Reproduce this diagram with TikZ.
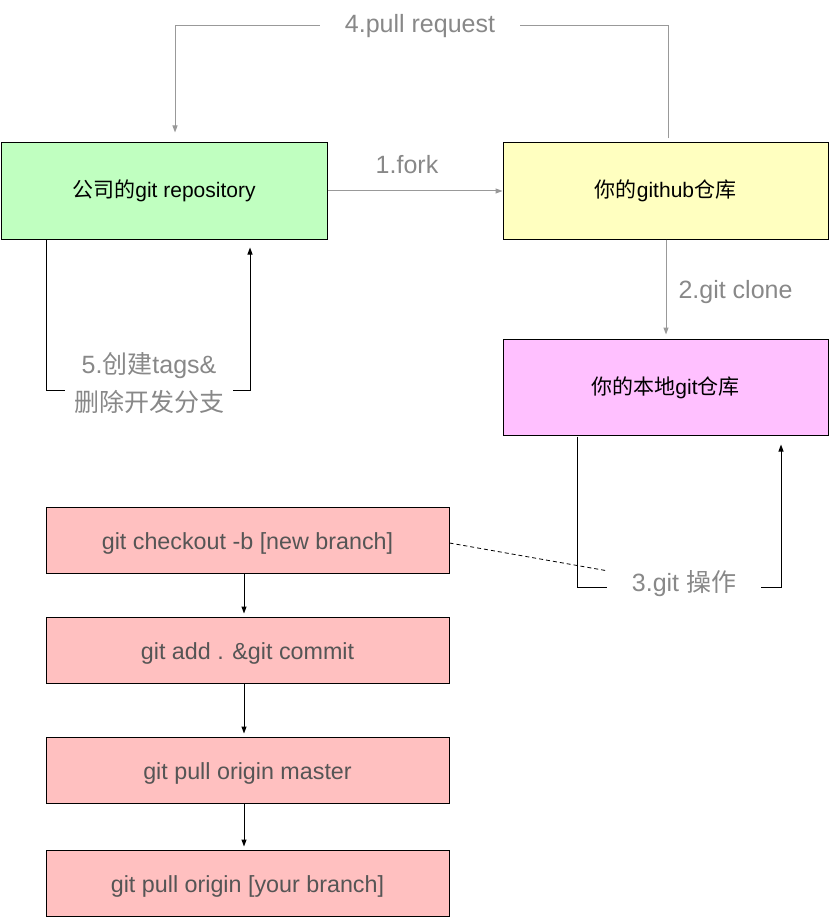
\documentclass[tikz,border=0pt]{standalone}
\usepackage{fontspec}
\setmainfont{Liberation Sans}
\newfontfamily\cjk{Noto Sans CJK SC}
\usetikzlibrary{arrows.meta,calc}
\definecolor{boxgreen}{HTML}{C0FFC0}
\definecolor{boxyellow}{HTML}{FFFFC0}
\definecolor{boxmagenta}{HTML}{FFC0FF}
\definecolor{boxsalmon}{HTML}{FFC0C0}
\definecolor{salmontext}{HTML}{555555}
\definecolor{lblgray}{HTML}{888888}
\definecolor{linegray}{HTML}{999999}
\begin{document}
\begin{tikzpicture}[x=1pt,y=-1pt,
  box/.style={draw=black,line width=1pt,inner sep=0pt,text height=17pt,text depth=3pt,font=\fontsize{21}{25}\selectfont},
  sbox/.style={box,fill=boxsalmon,minimum width=403pt,minimum height=66pt,text=salmontext,text height=20pt,text depth=2pt,font=\fontsize{23.3}{27}\selectfont},
  lbl/.style={text=lblgray,font=\fontsize{25}{38}\selectfont},
  garrow/.style={draw=linegray,line width=1pt,-{Triangle[length=7pt,width=5pt]}},
  barrow/.style={draw=black,line width=1pt,-{Triangle[length=7pt,width=5pt]}}]
\useasboundingbox (0,0) rectangle (829,917);
% boxes
\node[box,fill=boxgreen,minimum width=326pt,minimum height=96pt] (green) at (164,191) {{\cjk 公司的}git repository};
\node[box,fill=boxyellow,minimum width=325pt,minimum height=96pt] (yellow) at (665.5,191) {{\cjk 你的}github{\cjk 仓库}};
\node[box,fill=boxmagenta,minimum width=325pt,minimum height=96pt] (magenta) at (665.5,387) {{\cjk 你的本地}git{\cjk 仓库}};
\node[sbox] (s1) at (247.5,540) {git checkout -b [new branch]};
\node[sbox] (s2) at (247.5,650) {git add . \&git commit};
\node[sbox] (s3) at (247.5,770) {git pull origin master};
\node[sbox] (s4) at (247.5,883) {git pull origin [your branch]};
% 1.fork
\draw[garrow] (green.east) -- (yellow.west);
\node[lbl] (fork) at (407,165) {1.fork};
% 4.pull request
\draw[garrow] ([xshift=2.5pt,yshift=4pt]yellow.north) -- ++(0,-113) -| ([xshift=11pt,yshift=10pt]green.north);
\node[lbl,fill=white,inner xsep=25pt,inner ysep=2pt] (pr) at (420,26) {4.pull request};
% 2.git clone
\draw[garrow] ([xshift=0.5pt]yellow.south) -- ([xshift=0.5pt,yshift=4pt]magenta.north);
\node[lbl,anchor=west] (clone) at (675,292) {2.git clone};
% 5.
\draw[barrow] ([xshift=-118pt]green.south) -- ++(0,151) -| ([xshift=86pt,yshift=-8pt]green.south);
\node[lbl,fill=white,align=center,inner xsep=9pt,inner ysep=1pt] (tags) at (149,383) {5.{\cjk 创建}tags\&\\{\cjk 删除开发分支}};
% 3.
\draw[barrow] ([xshift=-88.5pt,yshift=-1pt]magenta.south) -- ++(0,151) -| ([xshift=115.5pt,yshift=-9pt]magenta.south);
\node[lbl,fill=white,inner xsep=25pt,inner ysep=2pt] (op) at (684,584) {3.git {\cjk 操作}};
\draw[black,line width=0.8pt,dash pattern=on 4pt off 3pt] ([yshift=-3pt]s1.east) -- ([yshift=-2pt]op.north west);
% salmon chain
\draw[barrow] ([xshift=-3.5pt]s1.south) -- ([xshift=-3.5pt,yshift=3pt]s2.north);
\draw[barrow] ([xshift=-3.5pt]s2.south) -- ([xshift=-3.5pt,yshift=3pt]s3.north);
\draw[barrow] ([xshift=-3.5pt]s3.south) -- ([xshift=-3.5pt,yshift=3pt]s4.north);
\end{tikzpicture}
\end{document}
